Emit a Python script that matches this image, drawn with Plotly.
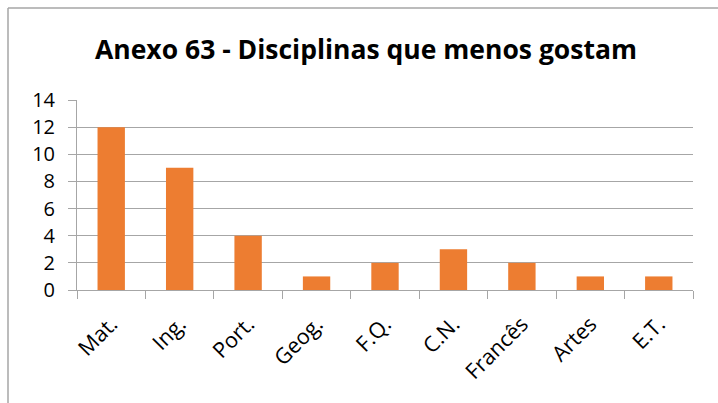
import plotly.graph_objects as go

# Disciplinas e número de respostas
disciplinas = ["Mat.", "Ing.", "Port.", "Geog.", "F.Q.", "C.N.", "Francês", "Artes", "E.T."]
respostas = [12, 9, 4, 1, 2, 3, 2, 1, 1]

titulo = "Anexo 63 - Disciplinas que menos gostam"

W, H = 718, 403
L, R, T, B = 77, 25, 100, 113
pw, ph = W - L - R, H - T - B

def px_x(px):
    return (px - L) / pw

def px_y(py):
    return (H - B - py) / ph

fig = go.Figure(
    go.Bar(
        x=disciplinas,
        y=respostas,
        marker=dict(color="#ED7D31", line=dict(width=0)),
        width=0.4,
    )
)

grid = "#a6a6a6"
fig.update_layout(
    width=W,
    height=H,
    margin=dict(l=L, r=R, t=T, b=B),
    paper_bgcolor="white",
    plot_bgcolor="white",
    showlegend=False,
    font=dict(family="Open Sans", color="#000000"),
    title=dict(
        text=f"<b>{titulo}</b>",
        x=366 / W,
        xanchor="center",
        y=1 - 50 / H,
        yanchor="middle",
        font=dict(size=26.5, family="Open Sans", color="#000000"),
    ),
    bargap=0.6,
)

fig.update_xaxes(
    type="category",
    showgrid=False,
    showline=True,
    linecolor=grid,
    linewidth=1,
    ticks="outside",
    ticklen=8,
    tickcolor=grid,
    tickson="boundaries",
    tickangle=-45,
    tickfont=dict(size=21.5),
    ticklabelstandoff=12,
)

fig.update_yaxes(
    range=[0, 14],
    dtick=2,
    showgrid=True,
    gridcolor=grid,
    gridwidth=1,
    showline=True,
    linecolor=grid,
    linewidth=1,
    ticks="outside",
    ticklen=8,
    tickcolor=grid,
    tickfont=dict(size=20),
    ticklabelstandoff=9,
    zeroline=False,
)

# Contorno da área do gráfico
fig.add_shape(type="line", xref="paper", yref="paper",
              x0=px_x(8), x1=px_x(8), y0=px_y(8), y1=px_y(H + 5),
              line=dict(color="#a6a6a6", width=1.5))
fig.add_shape(type="line", xref="paper", yref="paper",
              x0=px_x(8), x1=px_x(W + 5), y0=px_y(8), y1=px_y(8),
              line=dict(color="#a6a6a6", width=1.5))

fig.write_html("out.html")
